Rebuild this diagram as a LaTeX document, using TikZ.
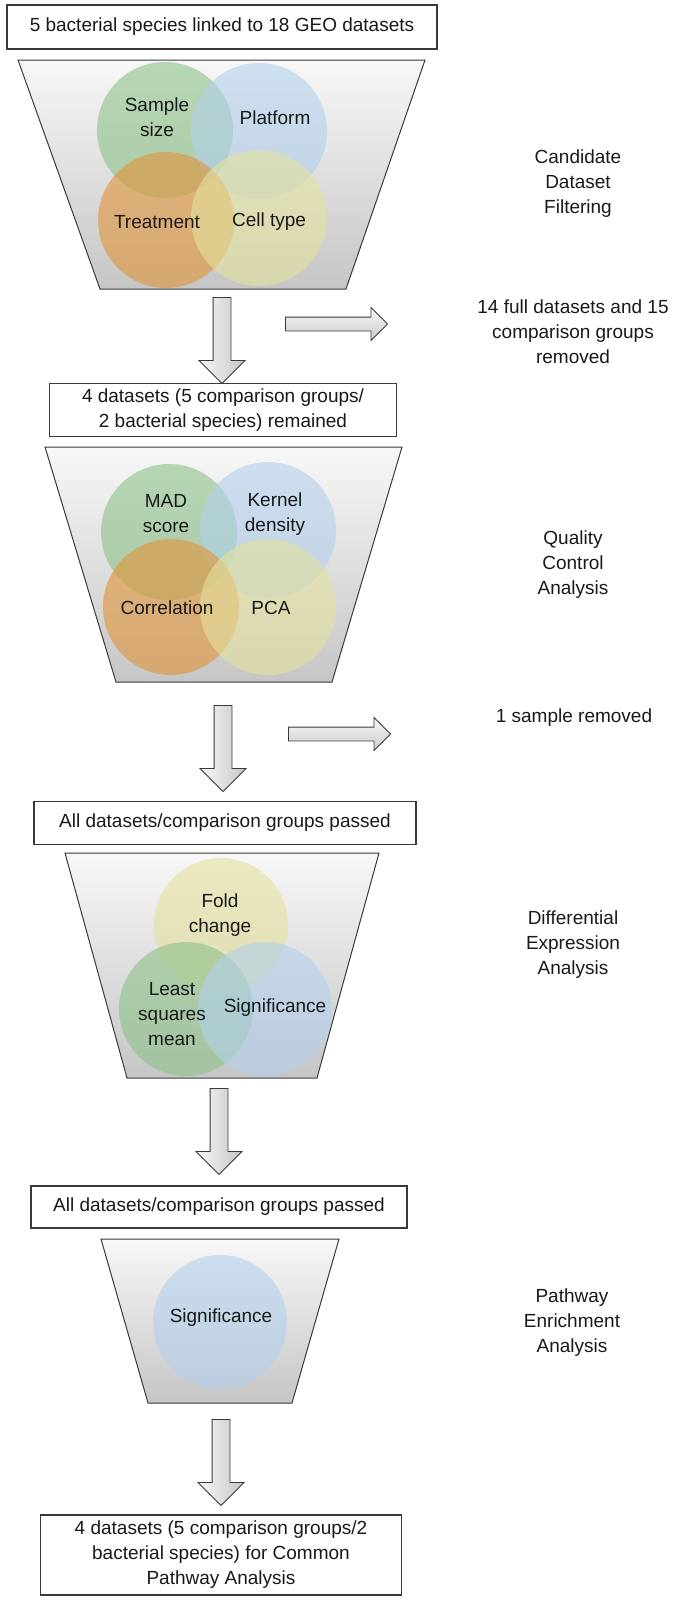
\documentclass[tikz,border=0pt]{standalone}
\usepackage{fontspec}
\setmainfont{Liberation Sans}
\usetikzlibrary{shapes.arrows}

\definecolor{vgreen}{HTML}{8DC288}
\definecolor{vblue}{HTML}{B2D0EC}
\definecolor{vorange}{HTML}{DF9439}
\definecolor{vyellow}{HTML}{E3E19D}
\definecolor{edgegray}{HTML}{3A3A3A}

\begin{document}
\begin{tikzpicture}[x=1pt,y=-1pt,
  txt/.style={font=\fontsize{19}{25}\selectfont,align=center,text=black!90},
  stepbox/.style={txt,draw=edgegray,line width=1.2pt,fill=white,inner sep=0pt},
  funnel/.style={draw=edgegray,line width=1pt,top color=gray!6,bottom color=gray!45},
  venn/.style={fill opacity=0.6},
  downarrow/.style={single arrow,draw=edgegray,line width=0.9pt,rotate=-90,
    minimum height=86pt,minimum width=45pt,single arrow head extend=14pt,
    inner xsep=0pt,inner ysep=8.5pt,left color=gray!6,right color=gray!45},
  outarrow/.style={single arrow,draw=edgegray,line width=0.9pt,
    minimum height=102pt,minimum width=32pt,single arrow head extend=9.5pt,
    inner xsep=0pt,inner ysep=6.5pt,top color=gray!6,bottom color=gray!40}]

\useasboundingbox (0,0) rectangle (682,1612);

\node[stepbox,minimum width=430pt,minimum height=44pt] (start) at (222,27) {5 bacterial species linked to 18 GEO datasets};

\shade[funnel] (18,60) -- (425,60) -- (346,289) -- (100,289) -- cycle;
\fill[vgreen,venn] (165,130) circle (68);
\fill[vblue,venn] (259,131) circle (68);
\fill[vorange,venn] (166,220) circle (68);
\fill[vyellow,venn] (259,218) circle (68);
\node[txt] (sample) at (157,117) {Sample\\size};
\node[txt] (platform) at (275,118) {Platform};
\node[txt] (treat) at (157,222) {Treatment};
\node[txt] (celltype) at (269,222) {Cell type};
\node[txt] (filtering) at (578,184) {Candidate\\Dataset\\Filtering};

\node[downarrow] (down1) at (222,336) {};
\node[outarrow] (out1) at (333,324) {};
\node[txt] (removed1) at (573,332) {14 full datasets and 15\\comparison groups\\removed};

\node[stepbox,minimum width=347pt,minimum height=53pt] (remain) at (223,410) {4 datasets (5 comparison groups/\\2 bacterial species) remained};

\shade[funnel] (45,447) -- (402,447) -- (332,682) -- (116,682) -- cycle;
\fill[vgreen,venn] (169,532) circle (68);
\fill[vblue,venn] (268,530) circle (68);
\fill[vorange,venn] (171,607) circle (68);
\fill[vyellow,venn] (268,607) circle (68);
\node[txt] (mad) at (166,514) {MAD\\score};
\node[txt] (kernel) at (275,514) {Kernel\\density};
\node[txt] (corr) at (167,608) {Correlation};
\node[txt] (pca) at (271,608) {PCA};
\node[txt] (quality) at (573,565) {Quality\\Control\\Analysis};

\node[downarrow] (down2) at (223,744) {};
\node[outarrow] (out2) at (336,734) {};
\node[txt] (removed2) at (574,718) {1 sample removed};

\node[stepbox,minimum width=382pt,minimum height=43pt] (passA) at (225,823) {All datasets/comparison groups passed};

\shade[funnel] (65,853) -- (379,853) -- (317,1078) -- (127,1078) -- cycle;
\fill[vyellow,venn] (221,925) circle (67);
\fill[vgreen,venn] (186,1009) circle (67);
\fill[vblue,venn] (265,1009) circle (67);
\node[txt] (fold) at (220,915) {Fold\\change};
\node[txt] (lsm) at (172,1014) {Least\\squares\\mean};
\node[txt] (signifA) at (275,1008) {Significance};
\node[txt] (diffexp) at (573,945) {Differential\\Expression\\Analysis};

\node[downarrow] (down3) at (219,1127) {};

\node[stepbox,minimum width=376pt,minimum height=42pt] (passB) at (219,1207) {All datasets/comparison groups passed};

\shade[funnel] (101,1239) -- (339,1239) -- (292,1403) -- (148,1403) -- cycle;
\fill[vblue,venn] (220,1322) circle (67);
\node[txt] (signifB) at (221,1318) {Significance};
\node[txt] (pathway) at (572,1323) {Pathway\\Enrichment\\Analysis};

\node[downarrow] (down4) at (221,1458) {};

\node[stepbox,minimum width=361pt,minimum height=80pt] (final) at (221,1555) {4 datasets (5 comparison groups/2\\bacterial species) for Common\\Pathway Analysis};

\end{tikzpicture}
\end{document}
